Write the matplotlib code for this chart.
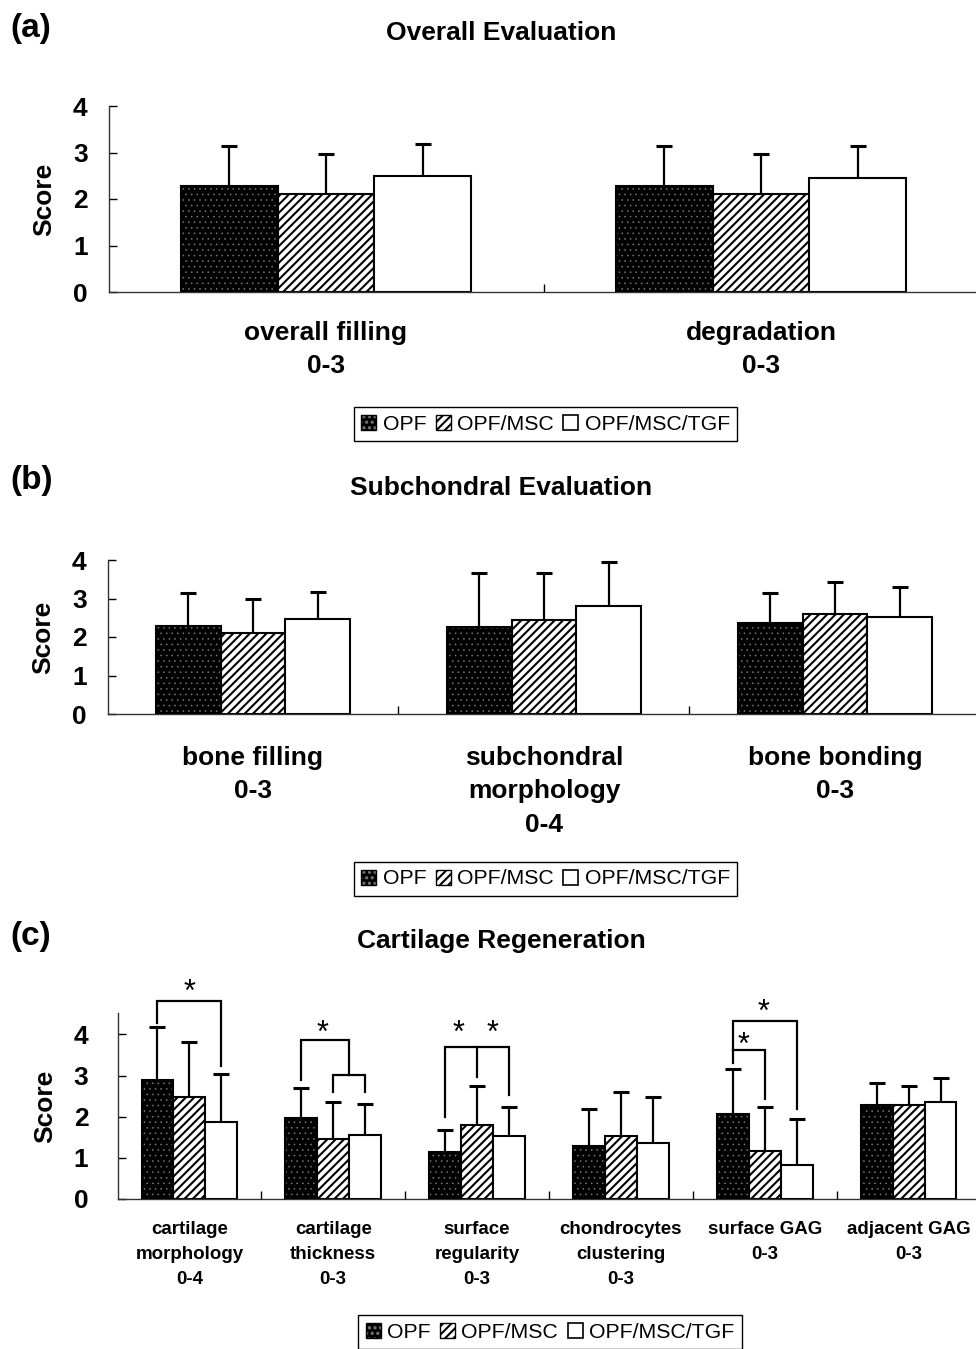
import matplotlib
matplotlib.use("Agg")
import matplotlib.pyplot as plt
from matplotlib.patches import Patch
from matplotlib.legend_handler import HandlerTuple
import numpy as np

plt.rcParams['font.family'] = ['Liberation Sans', 'DejaVu Sans']
plt.rcParams['hatch.linewidth'] = 1.5

# ---------------- data ----------------
groups = ["OPF", "OPF/MSC", "OPF/MSC/TGF"]

cats_a = ["overall filling\n0-3", "degradation\n0-3"]
opf_a = [2.27, 2.27]
opf_a_err = [0.87, 0.87]
msc_a = [2.10, 2.10]
msc_a_err = [0.87, 0.87]
tgf_a = [2.50, 2.46]
tgf_a_err = [0.68, 0.68]

cats_b = ["bone filling\n0-3", "subchondral\nmorphology\n0-4", "bone bonding\n0-3"]
opf_b = [2.29, 2.26, 2.36]
opf_b_err = [0.85, 1.40, 0.78]
msc_b = [2.10, 2.44, 2.60]
msc_b_err = [0.89, 1.22, 0.83]
tgf_b = [2.47, 2.81, 2.52]
tgf_b_err = [0.70, 1.14, 0.78]

cats_c = ["cartilage\nmorphology\n0-4", "cartilage\nthickness\n0-3",
          "surface\nregularity\n0-3", "chondrocytes\nclustering\n0-3",
          "surface GAG\n0-3", "adjacent GAG\n0-3"]
opf_c = [2.90, 1.97, 1.14, 1.29, 2.07, 2.29]
opf_c_err = [1.28, 0.73, 0.54, 0.90, 1.09, 0.53]
msc_c = [2.48, 1.46, 1.80, 1.53, 1.17, 2.29]
msc_c_err = [1.34, 0.90, 0.95, 1.07, 1.07, 0.46]
tgf_c = [1.87, 1.56, 1.53, 1.36, 0.83, 2.36]
tgf_c_err = [1.17, 0.75, 0.71, 1.12, 1.12, 0.58]

W, H = 976, 1349
fig = plt.figure(figsize=(W / 100, H / 100), dpi=100)
fig.patch.set_facecolor('white')

BW = 0.222
offsets = [-BW, 0.0, BW]
DOT = '#7a7a7a'


def px_axes(left, right, top, bottom):
    return fig.add_axes([left / W, 1 - bottom / H, (right - left) / W, (bottom - top) / H])


def draw_panel(ax, cats, vals, errs, ylim, lab_size, lab_pad, linespacing=1.2, ypad=15):
    n = len(cats)
    x = np.arange(n)
    # OPF: black with grey dots
    with plt.rc_context({'hatch.linewidth': 0.4}):
        ax.bar(x + offsets[0], vals[0], BW, color='black', edgecolor=DOT,
               hatch='...', linewidth=0, zorder=2)
    ax.bar(x + offsets[0], vals[0], BW, fill=False, edgecolor='black', linewidth=1.5, zorder=3)
    # OPF/MSC: diagonal hatch
    ax.bar(x + offsets[1], vals[1], BW, color='white', edgecolor='black',
           hatch='////', linewidth=1.5, zorder=2)
    # OPF/MSC/TGF: white
    ax.bar(x + offsets[2], vals[2], BW, color='white', edgecolor='black',
           linewidth=1.5, zorder=2)
    for k in range(3):
        xs = x + offsets[k]
        v = np.asarray(vals[k])
        e = np.asarray(errs[k])
        ax.vlines(xs, v, v + e, color='black', lw=1.6, zorder=4)
        ax.plot(xs, v + e, ls='none', marker='_', ms=11, mew=2.2, color='black', zorder=4)
    ax.set_xlim(-0.5, n - 0.5)
    ax.set_ylim(*ylim)
    for s in ['top', 'right']:
        ax.spines[s].set_visible(False)
    for s in ['left', 'bottom']:
        ax.spines[s].set_linewidth(1.0)
        ax.spines[s].set_color('#333333')
    ax.set_yticks([0, 1, 2, 3, 4])
    ax.tick_params(axis='y', direction='in', length=6, width=1, pad=ypad,
                   labelsize=19)
    for t in ax.get_yticklabels():
        t.set_fontweight('bold')
    ax.set_xticks(x)
    ax.set_xticklabels(cats, fontsize=lab_size, fontweight='bold', linespacing=linespacing)
    ax.tick_params(axis='x', which='major', length=0, pad=lab_pad)
    ax.set_xticks(np.arange(0.5, n - 1, 1.0), minor=True)
    ax.tick_params(axis='x', which='minor', direction='in', length=6, width=1)
    ax.set_ylabel('Score', fontsize=19, fontweight='bold', labelpad=12)
    ax.patch.set_alpha(0)


def legend(cx, cy):
    with plt.rc_context({'hatch.linewidth': 0.4}):
        h_dots = Patch(facecolor='black', edgecolor=DOT, hatch='...', linewidth=0)
    h_opf = (h_dots, Patch(facecolor='none', edgecolor='black', linewidth=1))
    h_msc = Patch(facecolor='white', edgecolor='black', hatch='////', linewidth=1)
    h_tgf = Patch(facecolor='white', edgecolor='black', linewidth=1.2)
    leg = fig.legend([h_opf, h_msc, h_tgf], groups, loc='center',
                     bbox_to_anchor=(cx / W, 1 - cy / H), ncol=3, fontsize=15.3,
                     handlelength=0.7, handleheight=0.7, handletextpad=0.3,
                     columnspacing=0.45, borderpad=0.35, fancybox=False,
                     edgecolor='black', framealpha=1,
                     handler_map={tuple: HandlerTuple(ndivide=1)})
    leg.get_frame().set_linewidth(1.0)


# ---------------- panel (a) ----------------
ax_a = px_axes(108.5, 978.5, 106, 292)
draw_panel(ax_a, cats_a, [opf_a, msc_a, tgf_a], [opf_a_err, msc_a_err, tgf_a_err],
           (0, 4), 19, 21, linespacing=1.45)
fig.text(10 / W, 1 - 29 / H, '(a)', fontsize=24, fontweight='bold', va='center', ha='left')
fig.text(501 / W, 1 - 33 / H, 'Overall Evaluation', fontsize=19, fontweight='bold',
         va='center', ha='center')
legend(545.5, 424)

# ---------------- panel (b) ----------------
ax_b = px_axes(107.5, 980.5, 560, 714)
draw_panel(ax_b, cats_b, [opf_b, msc_b, tgf_b], [opf_b_err, msc_b_err, tgf_b_err],
           (0, 4), 19, 23, linespacing=1.5)
fig.text(10 / W, 1 - 481 / H, '(b)', fontsize=24, fontweight='bold', va='center', ha='left')
fig.text(501 / W, 1 - 488 / H, 'Subchondral Evaluation', fontsize=19, fontweight='bold',
         va='center', ha='center')
legend(545.5, 879)

# ---------------- panel (c) ----------------
ax_c = px_axes(117.5, 980.5, 1013, 1199)
draw_panel(ax_c, cats_c, [opf_c, msc_c, tgf_c], [opf_c_err, msc_c_err, tgf_c_err],
           (0, 4.52), 13.5, 16, linespacing=1.6, ypad=21)
fig.text(10 / W, 1 - 936 / H, '(c)', fontsize=24, fontweight='bold', va='center', ha='left')
fig.text(501 / W, 1 - 941 / H, 'Cartilage Regeneration', fontsize=19, fontweight='bold',
         va='center', ha='center')
legend(550, 1332)

# significance brackets (c)
def bline(xs, ys):
    ax_c.plot(xs, ys, color='black', lw=1.6, clip_on=False, zorder=5,
              solid_joinstyle='miter')

def star(x, y):
    ax_c.text(x, y, '*', fontsize=22, ha='center', va='center', clip_on=False, zorder=5)

o, m, t = offsets
# cartilage morphology: OPF vs TGF
bline([0 + o, 0 + o, 0 + t, 0 + t], [4.28, 4.82, 4.82, 3.24])
star(0.0, 5.02)
# cartilage thickness: OPF vs (MSC, TGF)
bline([1 + o, 1 + o, 1 + (m + t) / 2, 1 + (m + t) / 2], [2.90, 3.87, 3.87, 3.02])
bline([1 + m, 1 + m, 1 + t, 1 + t], [2.60, 3.02, 3.02, 2.60])
star(0.925, 4.02)
# surface regularity
bline([2 + o, 2 + o, 2 + t, 2 + t], [2.0, 3.70, 3.70, 2.53])
bline([2 + m, 2 + m], [3.70, 2.97])
star(1.87, 4.02)
star(2.11, 4.02)
# surface GAG
bline([4 + o, 4 + o, 4 + t, 4 + t], [3.31, 4.33, 4.33, 2.19])
bline([4 + o, 4 + m, 4 + m], [3.63, 3.63, 2.43])
star(3.99, 4.53)
star(3.85, 3.71)

fig.savefig('out.png', dpi=100, facecolor='white')
